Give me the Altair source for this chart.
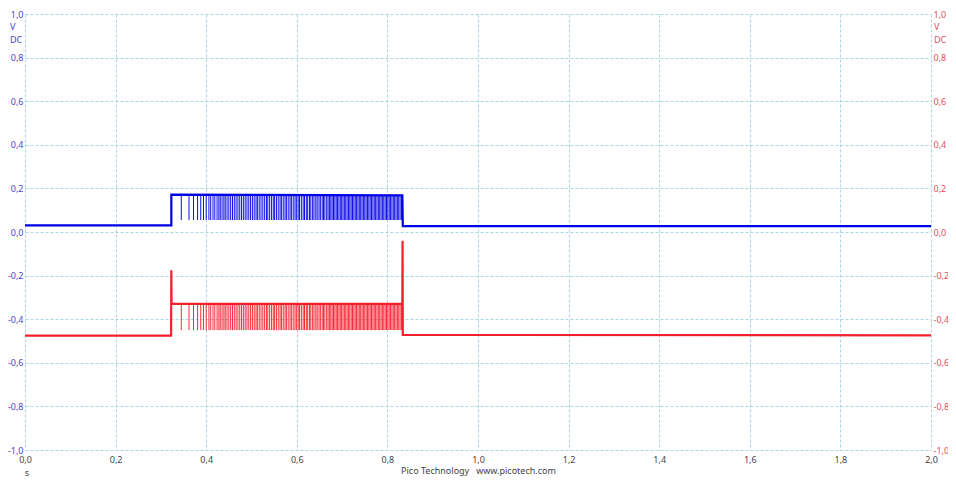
import altair as alt
import pandas as pd

# ---- data (time in s, voltage in V) ----
blue_t = [0.0, 0.323, 0.323, 0.833, 0.834, 2.0]
blue_v = [0.030, 0.030, 0.171, 0.168, 0.027, 0.027]

red_t = [0.0, 0.3225, 0.323, 0.3235, 0.833, 0.8335, 0.834, 2.0]
red_v = [-0.475, -0.475, -0.175, -0.330, -0.330, -0.040, -0.472, -0.474]

# spike (pulse) times in ms
spike_ms = [345, 362, 372, 381, 388, 394, 400, 406, 410, 415, 419, 424, 428, 431, 435, 439, 442, 446,
            450, 454, 458, 462, 466, 470, 474, 478, 482, 486, 490, 494, 498, 502, 506, 510, 513, 517,
            521, 525, 529, 533, 536, 540, 544, 548, 551, 555, 559, 563, 566, 570, 574, 577, 581, 585,
            588, 592, 596, 599, 603, 606, 610, 614, 617, 621, 624, 628, 631, 635, 638, 642, 645, 649,
            652, 656, 659, 662, 666, 669, 672, 675, 678, 681, 684, 687, 690, 693, 696, 699, 702, 705,
            708, 711, 714, 717, 720, 723, 726, 729, 732, 735, 738, 741, 744, 747, 750, 753, 756, 759,
            762, 765, 768, 771, 774, 777, 780, 783, 786, 789, 792, 795, 798, 801, 804, 807, 810, 813,
            816, 819, 822, 825, 828, 831]
blue_spike_hi, blue_spike_lo = 0.168, 0.055
red_spike_hi, red_spike_lo = -0.332, -0.450

x_ticks = [0.0, 0.2, 0.4, 0.6, 0.8, 1.0, 1.2, 1.4, 1.6, 1.8, 2.0]
y_ticks = [-1.0, -0.8, -0.6, -0.4, -0.2, 0.0, 0.2, 0.4, 0.6, 0.8, 1.0]

# ---- styles ----
BLUE_SIG = "#0000e6"
RED_SIG = "#f5202e"
BLUE_LBL = "#4646c8"
RED_LBL = "#e0505c"
GRID = "#a9d8e2"
FONT = "Noto Sans"
FS = 9
W, H = 906, 436

blue_df = pd.DataFrame({"t": blue_t, "v": blue_v, "i": range(len(blue_t))})
red_df = pd.DataFrame({"t": red_t, "v": red_v, "i": range(len(red_t))})
ts = [m / 1000 for m in spike_ms]
blue_sp = pd.DataFrame({"t": ts, "hi": [blue_spike_hi] * len(ts), "lo": [blue_spike_lo] * len(ts)})
red_sp = pd.DataFrame({"t": ts, "hi": [red_spike_hi] * len(ts), "lo": [red_spike_lo] * len(ts)})

lbl_expr = "(datum.value < -0.001 ? '-' : '') + replace(format(abs(datum.value), '.1f'), '.', ',')"

x_enc = alt.X("t:Q", scale=alt.Scale(domain=[0, 2], nice=False, zero=False),
              axis=alt.Axis(values=x_ticks, labelExpr=lbl_expr, grid=True, gridColor=GRID,
                            gridDash=[3, 2], gridWidth=1, domain=False, ticks=False,
                            labelFlush=False, labelOverlap=False,
                            labelPadding=5, labelColor="#444444", labelFont=FONT, labelFontSize=FS,
                            title="Pico Technology\u00a0\u00a0\u00a0www.picotech.com", titleFont=FONT,
                            titleFontSize=FS, titleFontWeight="normal", titleColor="#444444",
                            titlePadding=2))

y_scale = alt.Scale(domain=[-1, 1], nice=False, zero=False)


def y_axis(orient, color, grid):
    return alt.Axis(orient=orient, values=y_ticks, labelExpr=lbl_expr, grid=grid, gridColor=GRID,
                    gridDash=[3, 2], gridWidth=1, domain=False, ticks=False, labelPadding=2,
                    labelFlush=False, labelOverlap=False,
                    labelColor=color, labelFont=FONT, labelFontSize=FS, title=None)


left_axis = y_axis("left", BLUE_LBL, True)
right_axis = y_axis("right", RED_LBL, False)

blue_line = alt.Chart(blue_df).mark_line(strokeWidth=2.2, color=BLUE_SIG).encode(
    x=x_enc, y=alt.Y("v:Q", scale=y_scale, axis=left_axis), order="i:Q")
blue_spikes = alt.Chart(blue_sp).mark_rule(strokeWidth=1, color=BLUE_SIG, opacity=0.95).encode(
    x=x_enc, y=alt.Y("hi:Q", scale=y_scale, axis=left_axis), y2="lo:Q")

red_line = alt.Chart(red_df).mark_line(strokeWidth=2.2, color=RED_SIG).encode(
    x=x_enc, y=alt.Y("v:Q", scale=y_scale, axis=right_axis), order="i:Q")
red_spikes = alt.Chart(red_sp).mark_rule(strokeWidth=1, color=RED_SIG, opacity=0.95).encode(
    x=x_enc, y=alt.Y("hi:Q", scale=y_scale, axis=right_axis), y2="lo:Q")

# unit labels
units = pd.DataFrame({"txt": ["V", "DC"], "off": [13, 26]})
left_units = alt.Chart(units).mark_text(align="left", baseline="middle", color=BLUE_LBL,
                                        font=FONT, fontSize=FS).encode(
    x=alt.value(-15), y=alt.Y("off:Q", scale=None), text="txt:N")
right_units = alt.Chart(units).mark_text(align="left", baseline="middle", color=RED_LBL,
                                         font=FONT, fontSize=FS).encode(
    x=alt.value(W + 3), y=alt.Y("off:Q", scale=None), text="txt:N")
s_label = alt.Chart(pd.DataFrame({"txt": ["s"]})).mark_text(
    align="center", baseline="middle", color="#444444", font=FONT, fontSize=FS).encode(
    x=alt.value(2), y=alt.value(H + 23), text="txt:N")

left = alt.layer(blue_line, blue_spikes, left_units, s_label)
right = alt.layer(red_line, red_spikes, right_units)

chart = alt.layer(left, right).resolve_scale(y="independent").properties(
    width=W, height=H,
    autosize=alt.AutoSizeParams(type="none"),
    padding={"left": 17, "top": 6, "right": 17, "bottom": 30},
    background="white",
).configure_view(stroke=None)

chart.save("out.html", embed_options={"renderer": "svg", "actions": False})
